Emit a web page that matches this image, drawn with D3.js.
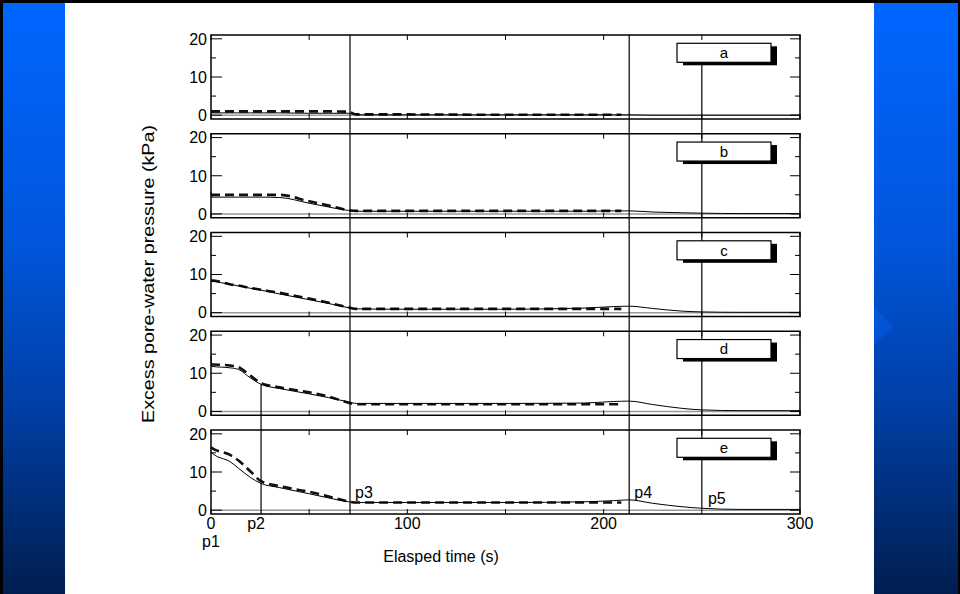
<!DOCTYPE html>
<html><head><meta charset="utf-8">
<script src="https://cdn.jsdelivr.net/npm/d3@7"></script>
<style>html,body{margin:0;padding:0;background:#000;}svg{display:block;}</style>
</head><body>
<script>
// ---- data ----
const panels = ["a","b","c","d","e"];
const tSolid = [0, 0.5, 10, 14, 20, 25.5, 35, 50, 60, 70, 74, 100, 150, 190, 205, 213, 225, 240, 250, 270, 300];
const solidA = [0.8,0.6,0.6,0.6,0.6,0.6,0.6,0.5,0.5,0.5,0.1,0.1,0.1,0.1,0.1,0.1,0.0,0.0,0.0,0.0,0.0];
const solidB = [5.8,4.4,4.4,4.4,4.4,4.4,4.3,2.8,1.8,0.9,0.7,0.7,0.7,0.7,0.8,0.8,0.5,0.3,0.2,0.1,0.1];
const solidC = [8.6,8.5,7.4,7.0,6.4,5.9,4.9,3.4,2.4,1.3,1.0,0.9,0.9,1.2,1.6,1.7,1.1,0.4,0.2,0.1,0.1];
const solidD = [14.5,11.8,11.4,11.0,8.8,7.1,6.0,4.6,3.6,2.5,2.1,2.1,2.1,2.2,2.6,2.7,1.8,0.8,0.4,0.2,0.2];
const solidE = [15.3,15.0,12.6,11.0,8.6,7.0,5.9,4.3,3.2,2.2,2.0,2.0,2.0,2.2,2.5,2.7,1.8,0.9,0.5,0.2,0.2];
const tDashed = [0, 0.5, 10, 14, 20, 25.5, 35, 50, 60, 70, 74, 100, 150, 190, 209];
const dashedA = [1.0,1.0,1.0,1.0,1.0,1.0,1.0,1.0,1.0,0.9,0.2,0.2,0.1,0.1,0.1];
const dashedB = [5.0,5.0,5.0,5.0,5.0,5.0,5.0,3.3,2.2,1.0,0.8,0.8,0.8,0.8,0.8];
const dashedC = [8.4,8.4,7.4,7.1,6.5,6.0,5.2,3.7,2.6,1.4,1.0,1.0,1.0,1.0,1.0];
const dashedD = [12.3,12.3,12.0,11.6,9.4,7.4,6.3,5.0,3.9,2.3,1.9,1.9,1.9,1.9,1.9];
const dashedE = [16.5,16.3,14.4,13.0,10.2,7.6,6.3,4.8,3.6,2.3,2.0,2.0,2.0,2.0,2.0];
const solidSeries = [solidA, solidB, solidC, solidD, solidE];
const dashedSeries = [dashedA, dashedB, dashedC, dashedD, dashedE];
const xTicks = [0,50,100,150,200,250,300];
const xTickLabels = [0,100,200,300];
const yMajor = [0,10,20];
const yMinor = [5,15];
const pointNames = ["p1","p2","p3","p4","p5"];
const pointTimes = [0, 25.5, 70.8, 213, 250];

// ---- layout ----
const W = 960, H = 594;
const svg = d3.select("body").append("svg").attr("width", W).attr("height", H);
const defs = svg.append("defs");
const grad = defs.append("linearGradient").attr("id","bg").attr("x1",0).attr("y1",0).attr("x2",0).attr("y2",1);
grad.append("stop").attr("offset","0%").attr("stop-color","#0066ff");
grad.append("stop").attr("offset","40%").attr("stop-color","#0056dc");
grad.append("stop").attr("offset","67%").attr("stop-color","#0040a8");
grad.append("stop").attr("offset","100%").attr("stop-color","#001e50");

svg.append("rect").attr("x",0).attr("y",0).attr("width",W).attr("height",H).attr("fill","#000");
svg.append("rect").attr("x",3).attr("y",3).attr("width",62).attr("height",H-3).attr("fill","url(#bg)");
svg.append("rect").attr("x",874).attr("y",3).attr("width",84).attr("height",H-3).attr("fill","url(#bg)");
svg.append("rect").attr("x",65).attr("y",3).attr("width",809).attr("height",H-3).attr("fill","#fff");
svg.append("path").attr("d","M874,307 L893,326 L874,345 Z").attr("fill","#0066ff").attr("opacity",0.35);

const x = d3.scaleLinear().domain([0,300]).range([211,800]);
const panelTop = i => 35 + i*98.75;
const panelH = 84;
const yScales = panels.map((p,i) => d3.scaleLinear().domain([-1,21]).range([panelTop(i)+panelH, panelTop(i)]));
const font = "Liberation Sans, Arial, sans-serif";

const g = svg.append("g");
panels.forEach((p,i) => {
  const y = yScales[i];
  const top = panelTop(i), bot = top + panelH;
  const pg = g.append("g");
  pg.append("line").attr("x1",x(0)).attr("x2",x(300)).attr("y1",y(0)).attr("y2",y(0))
    .attr("stroke","#999").attr("stroke-width",1.5);
  xTicks.forEach(t => {
    pg.append("line").attr("x1",x(t)).attr("x2",x(t)).attr("y1",top).attr("y2",top+5).attr("stroke","#000").attr("stroke-width",1);
    pg.append("line").attr("x1",x(t)).attr("x2",x(t)).attr("y1",bot).attr("y2",bot-5).attr("stroke","#000").attr("stroke-width",1);
  });
  yMajor.forEach(v => {
    pg.append("line").attr("x1",x(0)).attr("x2",x(0)+11).attr("y1",y(v)).attr("y2",y(v)).attr("stroke","#000");
    pg.append("line").attr("x1",x(300)).attr("x2",x(300)-10).attr("y1",y(v)).attr("y2",y(v)).attr("stroke","#000");
    pg.append("text").attr("x",x(0)-4).attr("y",y(v)).attr("dy","0.36em").attr("text-anchor","end")
      .attr("font-family",font).attr("font-size",16).text(v);
  });
  yMinor.forEach(v => {
    pg.append("line").attr("x1",x(0)).attr("x2",x(0)+5).attr("y1",y(v)).attr("y2",y(v)).attr("stroke","#000");
    pg.append("line").attr("x1",x(300)).attr("x2",x(300)-5).attr("y1",y(v)).attr("y2",y(v)).attr("stroke","#000");
  });
  const solidLine = d3.line().x((d,k)=>x(tSolid[k])).y(d=>y(d)).curve(d3.curveMonotoneX);
  const dashedLine = d3.line().x((d,k)=>x(tDashed[k])).y(d=>y(d)).curve(d3.curveMonotoneX);
  pg.append("path").attr("d",dashedLine(dashedSeries[i])).attr("fill","none").attr("stroke","#111")
    .attr("stroke-width",2.6).attr("stroke-dasharray","9,5");
  pg.append("path").attr("d",solidLine(solidSeries[i])).attr("fill","none").attr("stroke","#000")
    .attr("stroke-width",1);
  pg.append("rect").attr("x",x(0)).attr("y",top).attr("width",x(300)-x(0)).attr("height",panelH)
    .attr("fill","none").attr("stroke","#000").attr("stroke-width",1.5);
});

// vertical reference lines
const lastTop = panelTop(4), lastBot = lastTop + panelH;
const vg = svg.append("g").attr("stroke","#000").attr("stroke-width",1.2);
vg.append("line").attr("x1",x(pointTimes[2])).attr("x2",x(pointTimes[2])).attr("y1",panelTop(0)).attr("y2",lastBot);
vg.append("line").attr("x1",x(pointTimes[3])).attr("x2",x(pointTimes[3])).attr("y1",panelTop(0)).attr("y2",lastBot);
vg.append("line").attr("x1",x(pointTimes[4])).attr("x2",x(pointTimes[4])).attr("y1",panelTop(0)+27).attr("y2",yScales[4](0.5));
vg.append("line").attr("x1",x(pointTimes[1])).attr("x2",x(pointTimes[1])).attr("y1",yScales[3](7.1)).attr("y2",lastBot);

// boxes
panels.forEach((p,i) => {
  const top = panelTop(i) + 8.3;
  const bx = 677, bw = 94, bh = 19;
  svg.append("rect").attr("x",bx+6).attr("y",top+3).attr("width",bw).attr("height",bh).attr("fill","#000");
  svg.append("rect").attr("x",bx).attr("y",top).attr("width",bw).attr("height",bh).attr("fill","#fff")
    .attr("stroke","#000").attr("stroke-width",1.2);
  svg.append("text").attr("x",bx+bw/2).attr("y",top+bh/2).attr("dy","0.36em").attr("text-anchor","middle")
    .attr("font-family",font).attr("font-size",15).text(p);
});

xTickLabels.forEach(v => {
  svg.append("text").attr("x",x(v)).attr("y",lastBot+15).attr("text-anchor","middle")
    .attr("font-family",font).attr("font-size",16).text(v);
});

const lab = (t, px, py) => svg.append("text").attr("x",px).attr("y",py).attr("text-anchor","middle")
  .attr("font-family",font).attr("font-size",16).text(t);
lab(pointNames[0], x(pointTimes[0]), lastBot+33);
lab(pointNames[1], x(pointTimes[1])-5, lastBot+15);
lab(pointNames[2], x(pointTimes[2])+14, lastBot-16);
lab(pointNames[3], x(pointTimes[3])+14, lastBot-16);
lab(pointNames[4], x(pointTimes[4])+15, lastBot-10);

svg.append("text").attr("x",441).attr("y",562).attr("text-anchor","middle")
  .attr("font-family",font).attr("font-size",16).text("Elasped time (s)");
svg.append("text").attr("transform","translate(154,274) rotate(-90) scale(1.16,1)").attr("text-anchor","middle")
  .attr("font-family",font).attr("font-size",17).text("Excess pore-water pressure (kPa)");
</script>
</body></html>
